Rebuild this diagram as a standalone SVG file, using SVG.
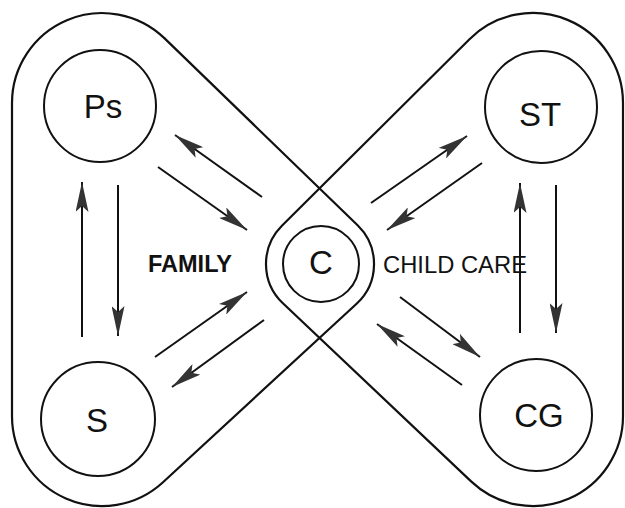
<svg xmlns="http://www.w3.org/2000/svg" width="625" height="508" viewBox="0 0 625 508">
<defs>
<style>
.shape{fill:none;stroke:#111;stroke-width:2.2}
.node{fill:none;stroke:#111;stroke-width:2}
.lbl{font-family:"Liberation Sans",Arial,sans-serif;font-size:33px;fill:#111;text-anchor:middle}
.area{font-family:"Liberation Sans",Arial,sans-serif;font-size:24px;fill:#111;text-anchor:middle}
.conn line{stroke:#111;stroke-width:2;marker-end:url(#ah)}
</style>
<marker id="ah" markerUnits="userSpaceOnUse" markerWidth="30" markerHeight="13" refX="30" refY="6.5" orient="auto">
<path d="M0,0 L30,6.5 L0,13 L6,6.5 Z" fill="#333"/>
</marker>
</defs>
<rect width="625" height="508" fill="#fff"/>
<g id="family-area">
<path class="shape" d="M12,103 A90,90 0 0 1 164.6,38.4 L357.6,225.2 A54,54 0 0 1 356.6,303.7 L163,482.2 A90,90 0 0 1 12,416 Z"/>
<text class="area" x="190" y="272" font-weight="bold" textLength="84" lengthAdjust="spacingAndGlyphs">FAMILY</text>
</g>
<g id="childcare-area">
<path class="shape" d="M623,103 A90,90 0 0 0 469.5,39.2 L281.9,225.7 A54,54 0 0 0 282.9,303.2 L471.1,481.4 A90,90 0 0 0 623,416 Z"/>
<text class="area" x="455" y="273" textLength="144" lengthAdjust="spacingAndGlyphs">CHILD CARE</text>
</g>
<g id="node-Ps"><circle class="node" cx="100" cy="106" r="56"/><text class="lbl" x="103" y="118">Ps</text></g>
<g id="node-S"><circle class="node" cx="98" cy="419" r="57"/><text class="lbl" x="97" y="432">S</text></g>
<g id="node-C"><circle class="node" cx="321" cy="264" r="38"/><text class="lbl" x="321" y="274">C</text></g>
<g id="node-ST"><circle class="node" cx="541" cy="107" r="56"/><text class="lbl" x="540" y="126">ST</text></g>
<g id="node-CG"><circle class="node" cx="536" cy="415" r="56"/><text class="lbl" x="539" y="427">CG</text></g>
<g id="connectors" class="conn">
<line x1="158" y1="167" x2="247" y2="230"/>
<line x1="262" y1="197" x2="175" y2="135"/>
<line x1="118" y1="185" x2="118" y2="336"/>
<line x1="82" y1="337" x2="82" y2="182"/>
<line x1="155" y1="357" x2="247" y2="292"/>
<line x1="264" y1="320" x2="172" y2="387"/>
<line x1="482" y1="163" x2="387" y2="230"/>
<line x1="371" y1="203" x2="467" y2="136"/>
<line x1="556" y1="185" x2="556" y2="333"/>
<line x1="520" y1="333" x2="520" y2="183"/>
<line x1="400" y1="297" x2="480" y2="357"/>
<line x1="462" y1="385" x2="377" y2="324"/>
</g>
</svg>
